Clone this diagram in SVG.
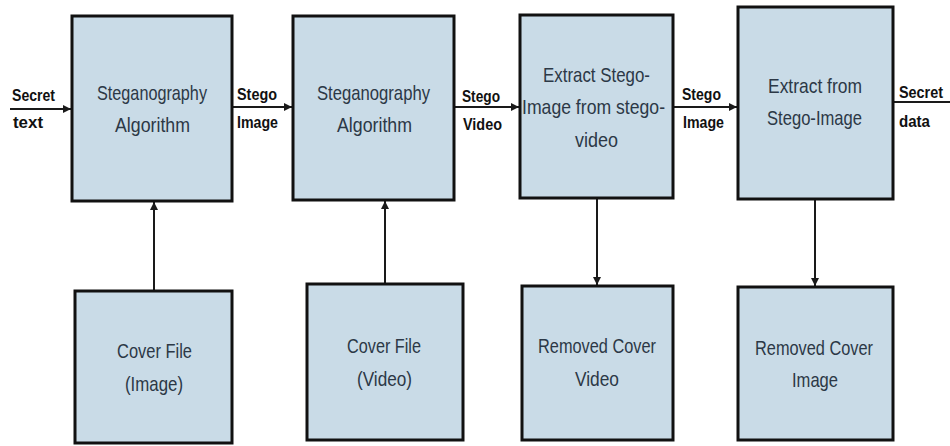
<svg xmlns="http://www.w3.org/2000/svg" width="950" height="446" viewBox="0 0 950 446">
  <style>
    .box { fill: #c9dbe7; stroke: #111; stroke-width: 3; }
    .lbl { font-family: "Liberation Sans", Arial, sans-serif; font-size: 21px; fill: #2c3846; }
    .edge { fill: none; stroke: #1a1a1a; stroke-width: 2; }
    .elbl { font-family: "Liberation Sans", Arial, sans-serif; font-size: 17px; font-weight: bold; fill: #111; }
  </style>
  <defs>
    <marker id="arrow" viewBox="0 0 10 10" refX="10" refY="5" markerWidth="4" markerHeight="4" orient="auto">
      <path d="M0,0 L10,5 L0,10 z" fill="#1a1a1a"/>
    </marker>
  </defs>
  <rect width="950" height="446" fill="#fff"/>

  <g id="connectors">
    <line class="edge" x1="10" y1="109" x2="71" y2="109" marker-end="url(#arrow)"/>
    <line class="edge" x1="232" y1="107" x2="292" y2="107" marker-end="url(#arrow)"/>
    <line class="edge" x1="454" y1="107" x2="519" y2="107" marker-end="url(#arrow)"/>
    <line class="edge" x1="673" y1="107" x2="737" y2="107" marker-end="url(#arrow)"/>
    <line class="edge" x1="893" y1="102" x2="950" y2="102"/>
    <line class="edge" x1="154" y1="290" x2="154" y2="202" marker-end="url(#arrow)"/>
    <line class="edge" x1="385" y1="283" x2="385" y2="201" marker-end="url(#arrow)"/>
    <line class="edge" x1="597" y1="199" x2="597" y2="285" marker-end="url(#arrow)"/>
    <line class="edge" x1="815" y1="200" x2="815" y2="286" marker-end="url(#arrow)"/>
    <text class="elbl" x="12" y="101" textLength="43" lengthAdjust="spacingAndGlyphs">Secret</text>
    <text class="elbl" x="13" y="128" textLength="30" lengthAdjust="spacingAndGlyphs">text</text>
    <text class="elbl" x="237" y="100" textLength="40" lengthAdjust="spacingAndGlyphs">Stego</text>
    <text class="elbl" x="237" y="128" textLength="41" lengthAdjust="spacingAndGlyphs">Image</text>
    <text class="elbl" x="462" y="102" textLength="38" lengthAdjust="spacingAndGlyphs">Stego</text>
    <text class="elbl" x="463" y="130" textLength="39" lengthAdjust="spacingAndGlyphs">Video</text>
    <text class="elbl" x="682" y="100" textLength="39" lengthAdjust="spacingAndGlyphs">Stego</text>
    <text class="elbl" x="683" y="128" textLength="41" lengthAdjust="spacingAndGlyphs">Image</text>
    <text class="elbl" x="899" y="98" textLength="44" lengthAdjust="spacingAndGlyphs">Secret</text>
    <text class="elbl" x="899" y="127" textLength="31" lengthAdjust="spacingAndGlyphs">data</text>
  </g>

  <g id="stego-algo-1">
    <rect class="box" x="72" y="16" width="160" height="185"/>
    <text class="lbl" x="97" y="100" textLength="110" lengthAdjust="spacingAndGlyphs">Steganography</text>
    <text class="lbl" x="115" y="132" textLength="75" lengthAdjust="spacingAndGlyphs">Algorithm</text>
  </g>
  <g id="stego-algo-2">
    <rect class="box" x="293" y="16" width="161" height="184"/>
    <text class="lbl" x="317" y="100" textLength="113" lengthAdjust="spacingAndGlyphs">Steganography</text>
    <text class="lbl" x="337" y="132" textLength="75" lengthAdjust="spacingAndGlyphs">Algorithm</text>
  </g>
  <g id="extract-stego-image">
    <rect class="box" x="520" y="15" width="153" height="183"/>
    <text class="lbl" x="543" y="82" textLength="107" lengthAdjust="spacingAndGlyphs">Extract Stego-</text>
    <text class="lbl" x="522" y="114" textLength="143" lengthAdjust="spacingAndGlyphs">Image from stego-</text>
    <text class="lbl" x="575" y="147" textLength="43" lengthAdjust="spacingAndGlyphs">video</text>
  </g>
  <g id="extract-from-stego-image">
    <rect class="box" x="738" y="7" width="155" height="192"/>
    <text class="lbl" x="768" y="93" textLength="94" lengthAdjust="spacingAndGlyphs">Extract from</text>
    <text class="lbl" x="767" y="125" textLength="95" lengthAdjust="spacingAndGlyphs">Stego-Image</text>
  </g>
  <g id="cover-image">
    <rect class="box" x="75" y="291" width="157" height="152"/>
    <text class="lbl" x="117" y="358" textLength="75" lengthAdjust="spacingAndGlyphs">Cover File</text>
    <text class="lbl" x="125" y="391" textLength="58" lengthAdjust="spacingAndGlyphs">(Image)</text>
  </g>
  <g id="cover-video">
    <rect class="box" x="307" y="284" width="156" height="156"/>
    <text class="lbl" x="347" y="353" textLength="74" lengthAdjust="spacingAndGlyphs">Cover File</text>
    <text class="lbl" x="357" y="386" textLength="55" lengthAdjust="spacingAndGlyphs">(Video)</text>
  </g>
  <g id="removed-cover-video">
    <rect class="box" x="522" y="286" width="151" height="154"/>
    <text class="lbl" x="538" y="353" textLength="118" lengthAdjust="spacingAndGlyphs">Removed Cover</text>
    <text class="lbl" x="575" y="386" textLength="44" lengthAdjust="spacingAndGlyphs">Video</text>
  </g>
  <g id="removed-cover-image">
    <rect class="box" x="738" y="287" width="155" height="153"/>
    <text class="lbl" x="755" y="355" textLength="118" lengthAdjust="spacingAndGlyphs">Removed Cover</text>
    <text class="lbl" x="792" y="387" textLength="46" lengthAdjust="spacingAndGlyphs">Image</text>
  </g>
</svg>
